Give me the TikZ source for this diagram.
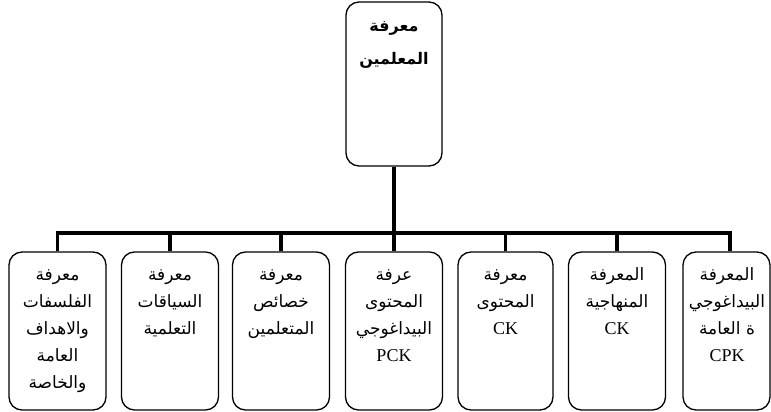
\documentclass[tikz,border=0pt]{standalone}
\usepackage{fontspec}
\setmainfont{Liberation Serif}
\newfontfamily\arabicfont[Script=Arabic]{DejaVu Sans}
\TeXXeTstate=1
\newcommand{\AR}[1]{{\arabicfont\beginR #1\endR}}
\newcommand{\FR}[1]{{\arabicfont\beginR\vphantom{ل}#1\endR}}
\newcommand{\LT}[1]{{\fontsize{18}{27}\selectfont #1}}
\begin{document}
\begin{tikzpicture}[x=1pt,y=1pt,
  box/.style={draw,line width=1.3pt,rounded corners=13pt,minimum height=158pt,inner sep=0pt},
  lbl/.style={anchor=north,align=center,font=\fontsize{17}{27}\selectfont,inner sep=0pt},
  conn/.style={line width=4pt},
  stub/.style={line width=3.5pt}]
\useasboundingbox (0,0) rectangle (771,-412);
\node[draw,line width=1.3pt,rounded corners=13pt,minimum width=96pt,minimum height=164pt,inner sep=0pt] (top) at (394,-84) {};
\node[anchor=north,align=center,font=\fontsize{16}{33}\selectfont\bfseries,inner sep=0pt] (toptxt) at (394,-21) {\AR{معرفة}\\\AR{المعلمين}};
\node[box,minimum width=97pt] (b1) at (57.5,-331) {};
\node[box,minimum width=97pt] (b2) at (170,-331) {};
\node[box,minimum width=97pt] (b3) at (281,-331) {};
\node[box,minimum width=97pt] (b4) at (394,-331) {};
\node[box,minimum width=95pt] (b5) at (505.5,-331) {};
\node[box,minimum width=97pt] (b6) at (617,-331) {};
\node[box,minimum width=87pt] (b7) at (726.5,-331) {};
\node[lbl] at (57.5,-267) {\FR{معرفة}\\\AR{الفلسفات}\\\AR{والاهداف}\\\AR{العامة}\\\AR{والخاصة}};
\node[lbl] at (170,-267) {\FR{معرفة}\\\AR{السياقات}\\\AR{التعلمية}};
\node[lbl] at (281,-267) {\FR{معرفة}\\\AR{خصائص}\\\AR{المتعلمين}};
\node[lbl] at (394,-267) {\FR{عرفة}\\\AR{المحتوى}\\\AR{البيداغوجي}\\\LT{PCK}};
\node[lbl] at (505.5,-267) {\FR{معرفة}\\\AR{المحتوى}\\\LT{CK}};
\node[lbl] at (617,-267) {\FR{المعرفة}\\\AR{المنهاجية}\\\LT{CK}};
\node[lbl] at (727,-267) {\FR{المعرفة}\\\AR{البيداغوجي}\\\AR{ة العامة}\\\LT{CPK}};
\coordinate (bar) at (394,-233);
\coordinate (s7) at ([xshift=3.5pt]b7.north);
\draw[conn] (top.south) -- (bar);
\draw[conn] ([xshift=-1.75pt]b1.north |- bar) -- ([xshift=1.75pt]s7 |- bar);
\foreach \b in {b1,b2,b3,b4,b5,b6}
  \draw[stub] (\b.north) -- (\b.north |- bar);
\draw[stub] (s7) -- (s7 |- bar);
\end{tikzpicture}
\end{document}
